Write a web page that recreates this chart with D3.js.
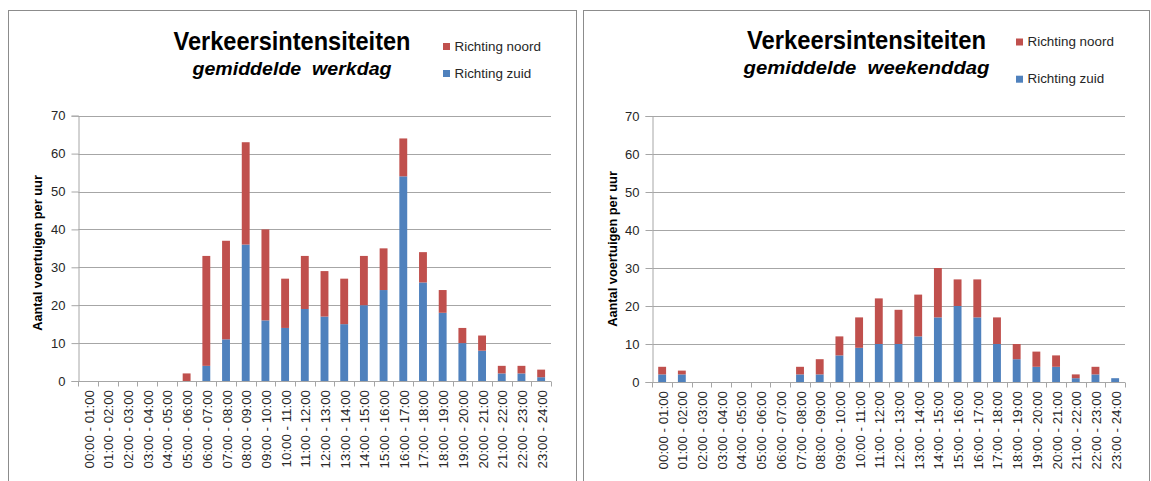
<!DOCTYPE html>
<html>
<head>
<meta charset="utf-8">
<script src="https://cdn.jsdelivr.net/npm/d3@7"></script>
<style>
  body { margin: 0; background: #fff; }
  svg { display: block; font-family: "Liberation Sans", Arial, sans-serif; }
</style>
</head>
<body>
<svg id="chart" width="1151" height="481"></svg>
<script>
// Hour slots on the category axis
const hourLabels = [
  "00:00 - 01:00", "01:00 - 02:00", "02:00 - 03:00", "03:00 - 04:00",
  "04:00 - 05:00", "05:00 - 06:00", "06:00 - 07:00", "07:00 - 08:00",
  "08:00 - 09:00", "09:00 - 10:00", "10:00 - 11:00", "11:00 - 12:00",
  "12:00 - 13:00", "13:00 - 14:00", "14:00 - 15:00", "15:00 - 16:00",
  "16:00 - 17:00", "17:00 - 18:00", "18:00 - 19:00", "19:00 - 20:00",
  "20:00 - 21:00", "21:00 - 22:00", "22:00 - 23:00", "23:00 - 24:00"
];

// Average weekday, vehicles per hour
const werkdagZuid  = [0, 0, 0, 0, 0, 0, 4, 11, 36, 16, 14, 19, 17, 15, 20, 24, 54, 26, 18, 10, 8, 2, 2, 1];
const werkdagNoord = [0, 0, 0, 0, 0, 2, 29, 26, 27, 24, 13, 14, 12, 12, 13, 11, 10, 8, 6, 4, 4, 2, 2, 2];

// Average weekend day, vehicles per hour
const weekendZuid  = [2, 2, 0, 0, 0, 0, 0, 2, 2, 7, 9, 10, 10, 12, 17, 20, 17, 10, 6, 4, 4, 1, 2, 1];
const weekendNoord = [2, 1, 0, 0, 0, 0, 0, 2, 4, 5, 8, 12, 9, 11, 13, 7, 10, 7, 4, 4, 3, 1, 2, 0];

const yTicks = [0, 10, 20, 30, 40, 50, 60, 70];
const seriesNames = { noord: "Richting noord", zuid: "Richting zuid" };
const titleText = "Verkeersintensiteiten";
const yAxisTitle = "Aantal voertuigen per uur";

const colors = { zuid: "#4F81BD", noord: "#C0504D" };

// Layout of the two chart panels
const panels = [
  {
    zuid: werkdagZuid, noord: werkdagNoord,
    subtitle: "gemiddelde  werkdag",
    frame: { x: 8, y: 10, w: 568, h: 490 },
    plot: { x0: 78.3, x1: 551, y0: 381, y1: 115.7 },
    titleX: 292, titleW: 237, titleY: 50,
    subW: 199, subY: 75,
    legend: { x: 443, noordY: 43, zuidY: 70 },
    yTitleX: 42, yTitleY: 253
  },
  {
    zuid: weekendZuid, noord: weekendNoord,
    subtitle: "gemiddelde  weekenddag",
    frame: { x: 583, y: 10, w: 566, h: 490 },
    plot: { x0: 652.3, x1: 1125, y0: 382, y1: 116 },
    titleX: 866.5, titleW: 239, titleY: 49,
    subW: 246, subY: 74,
    legend: { x: 1016, noordY: 38.5, zuidY: 75.7 },
    yTitleX: 616.5, yTitleY: 249
  }
];

const svg = d3.select("#chart");

panels.forEach(p => {
  const g = svg.append("g");

  // Panel frame
  g.append("rect")
    .attr("x", p.frame.x + 0.5).attr("y", p.frame.y + 0.5)
    .attr("width", p.frame.w).attr("height", p.frame.h)
    .attr("fill", "#fff").attr("stroke", "#8c8c8c").attr("stroke-width", 1);

  const rows = hourLabels.map((h, i) => ({ hour: h, zuid: p.zuid[i], noord: p.noord[i] }));
  const stacked = d3.stack().keys(["zuid", "noord"])(rows);

  const x = d3.scaleBand().domain(hourLabels)
    .range([p.plot.x0, p.plot.x1])
    .paddingInner(0.6).paddingOuter(0.3);
  const y = d3.scaleLinear().domain([0, 70]).range([p.plot.y0, p.plot.y1]);

  // Horizontal gridlines
  g.append("g").selectAll("line")
    .data(yTicks.filter(t => t > 0))
    .join("line")
    .attr("x1", p.plot.x0).attr("x2", p.plot.x1)
    .attr("y1", d => Math.round(y(d)) + 0.5).attr("y2", d => Math.round(y(d)) + 0.5)
    .attr("stroke", "#a6a6a6").attr("stroke-width", 1);

  // Y axis
  const yAxis = g.append("g")
    .attr("transform", `translate(${Math.round(p.plot.x0) + 0.5},0)`)
    .call(d3.axisLeft(y).tickValues(yTicks).tickSize(7).tickPadding(6));
  yAxis.select(".domain").attr("stroke", "#a6a6a6");
  yAxis.selectAll(".tick line").attr("stroke", "#a6a6a6");
  yAxis.selectAll(".tick text")
    .attr("font-family", "Liberation Sans, Arial, sans-serif")
    .attr("font-size", 13).attr("fill", "#262626");

  // Stacked bars
  g.append("g").selectAll("g")
    .data(stacked)
    .join("g")
    .attr("fill", d => colors[d.key])
    .selectAll("rect")
    .data(d => d)
    .join("rect")
    .attr("x", d => x(d.data.hour))
    .attr("width", x.bandwidth())
    .attr("y", d => y(d[1]))
    .attr("height", d => y(d[0]) - y(d[1]));

  // X axis with ticks between categories
  const xAxisY = Math.round(p.plot.y0) + 0.5;
  g.append("line")
    .attr("x1", p.plot.x0).attr("x2", p.plot.x1)
    .attr("y1", xAxisY).attr("y2", xAxisY)
    .attr("stroke", "#a6a6a6");
  const step = x.step();
  g.append("g").selectAll("line")
    .data(d3.range(hourLabels.length + 1))
    .join("line")
    .attr("x1", i => Math.round(p.plot.x0 + i * step) + 0.5)
    .attr("x2", i => Math.round(p.plot.x0 + i * step) + 0.5)
    .attr("y1", xAxisY).attr("y2", xAxisY + 5)
    .attr("stroke", "#a6a6a6");

  // Rotated hour labels
  g.append("g").selectAll("text")
    .data(hourLabels)
    .join("text")
    .attr("transform", d => `translate(${x(d) + x.bandwidth() / 2 + 1},${p.plot.y0 + 9}) rotate(-90)`)
    .attr("text-anchor", "end")
    .attr("dominant-baseline", "central")
    .attr("font-size", 13.3)
    .attr("fill", "#262626")
    .text(d => d);

  // Y axis title
  g.append("text")
    .attr("transform", `translate(${p.yTitleX},${p.yTitleY}) rotate(-90)`)
    .attr("text-anchor", "middle")
    .attr("font-size", 12.8).attr("font-weight", "bold")
    .attr("fill", "#000")
    .text(yAxisTitle);

  // Titles
  g.append("text")
    .attr("x", p.titleX - p.titleW / 2).attr("y", p.titleY)
    .attr("textLength", p.titleW).attr("lengthAdjust", "spacingAndGlyphs")
    .attr("font-size", 25).attr("font-weight", "bold").attr("fill", "#000")
    .text(titleText);
  g.append("text")
    .attr("x", p.titleX - p.subW / 2).attr("y", p.subY)
    .attr("textLength", p.subW).attr("lengthAdjust", "spacingAndGlyphs")
    .style("white-space", "pre")
    .attr("font-size", 19).attr("font-weight", "bold").attr("font-style", "italic")
    .attr("fill", "#000")
    .text(p.subtitle);

  // Legend
  [["noord", p.legend.noordY], ["zuid", p.legend.zuidY]].forEach(([key, ly]) => {
    g.append("rect")
      .attr("x", p.legend.x).attr("y", ly)
      .attr("width", 7).attr("height", 7)
      .attr("fill", colors[key]);
    g.append("text")
      .attr("x", p.legend.x + 11.5).attr("y", ly + 7.5)
      .attr("font-size", 13.4).attr("fill", "#262626")
      .text(seriesNames[key]);
  });
});
</script>
</body>
</html>
